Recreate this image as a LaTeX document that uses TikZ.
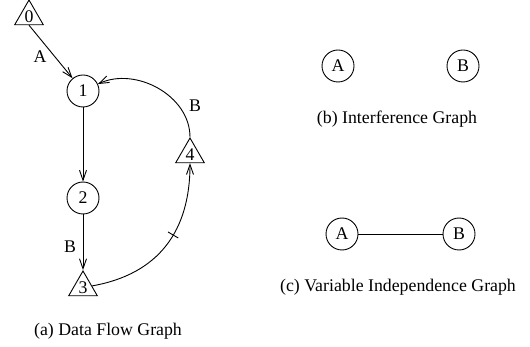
\documentclass[tikz,border=0pt]{standalone}
\usepackage{fontspec}
\setmainfont{Liberation Serif}
\usetikzlibrary{shapes.geometric,arrows.meta,decorations.markings}
\begin{document}
\begin{tikzpicture}[x=1pt,y=1pt, line width=0.9pt,
 every node/.style={font=\fontsize{17.8}{20}\selectfont},
 vtx/.style={circle,draw,minimum size=32pt,inner sep=0pt},
 tri/.style={regular polygon,regular polygon sides=3,draw,minimum size=33pt,inner sep=0pt},
 arr/.style={-{Straight Barb[length=10pt,width=7pt]}},
 tick/.style={postaction={decorate,decoration={markings,mark=at position #1 with {\draw[-,line width=0.9pt] (0,-6) -- (0,6);}}}}
 ]
\useasboundingbox (0,0) rectangle (530,-347);
% (a) data flow graph
\node[tri, label={center:0}] (t0) at (29,-16.5) {};
\node[vtx] (c1) at (83,-91) {1};
\node[vtx] (c2) at (83,-198) {2};
\node[tri, label={center:3}] (t3) at (83,-287.5) {};
\node[tri, label={center:4}] (t4) at (190,-154.5) {};
\draw[arr] (t0.south) -- (c1);
\draw[arr] (c1) -- (c2);
\draw[arr] (c2) -- (t3.corner 1);
\draw[arr, tick=0.57] (t3) to[out=10,in=-90,looseness=1.1] (t4.south);
\draw[arr] (t4.corner 1) to[out=90,in=25] (c1);
\node (lA) at (40,-57) {A};
\node (lB1) at (70,-247) {B};
\node (lB2) at (195,-106) {B};
\node (capa) at (108,-331) {(a) Data Flow Graph};
% (b) interference graph
\node[vtx] (bA) at (338,-66) {A};
\node[vtx] (bB) at (463,-66) {B};
\node (capb) at (397,-119) {(b) Interference Graph};
% (c) variable independence graph
\node[vtx] (cA) at (342,-234) {A};
\node[vtx] (cB) at (459,-234) {B};
\draw (cA) -- (cB);
\node (capc) at (398,-287) {(c) Variable Independence Graph};
\end{tikzpicture}
\end{document}
